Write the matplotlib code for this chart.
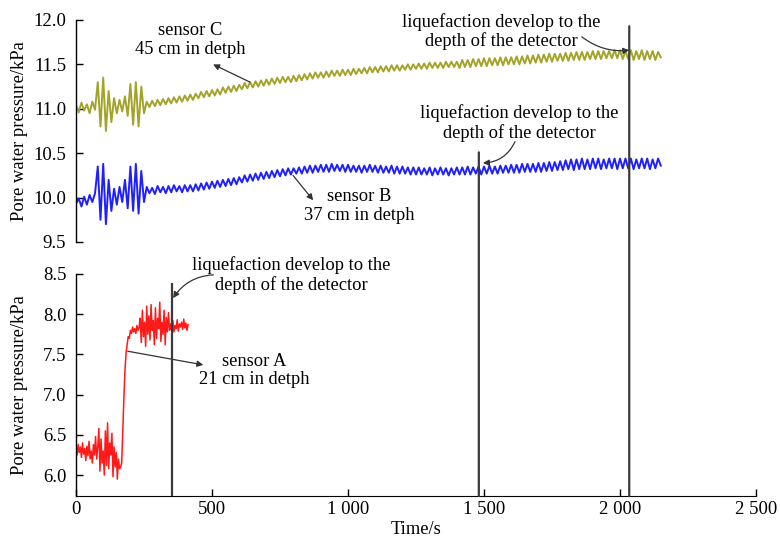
import numpy as np
import matplotlib
matplotlib.use("Agg")
import matplotlib.pyplot as plt
from matplotlib.patches import ConnectionPatch

plt.rcParams['font.family'] = ['Liberation Serif', 'DejaVu Serif']

# ---------------- data ----------------
t_step_bc = 10      # s, sampling step for sensors B and C
t_step_a = 4        # s, sampling step for sensor A

sensor_c = [
    11.04, 10.96, 11.07, 10.98, 11.05, 10.95, 11.08, 10.99,
    11.30, 10.80, 11.35, 10.75, 11.20, 10.85,
    11.12, 10.95, 11.10, 10.97, 11.14, 10.92,
    11.28, 10.82, 11.30, 10.80, 11.25, 10.95,
    11.08, 11.02, 11.09, 11.03, 11.10, 11.04, 11.11, 11.05, 11.12, 11.06, 11.13, 11.07, 11.14, 11.08, 11.15,
    11.09, 11.16, 11.10, 11.17, 11.12, 11.19, 11.13, 11.20, 11.14, 11.21, 11.15, 11.22, 11.16, 11.24, 11.18, 11.25, 11.19, 11.26, 11.20, 11.27,
    11.22, 11.29, 11.23, 11.30, 11.24, 11.31, 11.25, 11.32, 11.26, 11.33, 11.27, 11.34, 11.28, 11.35, 11.29, 11.36, 11.30, 11.36, 11.30, 11.37,
    11.31, 11.38, 11.32, 11.39, 11.33, 11.40, 11.34, 11.41, 11.35, 11.41, 11.35, 11.42, 11.36, 11.43, 11.37, 11.43, 11.37, 11.44, 11.38, 11.44,
    11.38, 11.45, 11.39, 11.45, 11.40, 11.46, 11.40, 11.47, 11.41, 11.47, 11.41, 11.48, 11.42, 11.48, 11.42, 11.49, 11.43, 11.49, 11.43, 11.49,
    11.44, 11.50, 11.44, 11.50, 11.45, 11.51, 11.45, 11.51, 11.45, 11.52, 11.46, 11.52, 11.46, 11.52, 11.46, 11.53, 11.47, 11.53, 11.47, 11.53,
    11.46, 11.55, 11.47, 11.55, 11.47, 11.56, 11.48, 11.56, 11.48, 11.57, 11.48, 11.57, 11.49, 11.57, 11.49, 11.58, 11.49, 11.58, 11.50, 11.58,
    11.50, 11.59, 11.50, 11.59, 11.51, 11.60, 11.51, 11.60, 11.52, 11.61, 11.52, 11.61, 11.53, 11.62, 11.53, 11.62, 11.54, 11.62, 11.54, 11.63,
    11.54, 11.63, 11.55, 11.64, 11.55, 11.64, 11.55, 11.64, 11.56, 11.65, 11.56, 11.65, 11.56, 11.65, 11.57, 11.65, 11.57, 11.66, 11.57, 11.66,
    11.56, 11.65, 11.56, 11.66, 11.55, 11.65, 11.56, 11.66, 11.55, 11.65, 11.56, 11.65, 11.55, 11.64, 11.58,
]

sensor_b = [
    9.93, 9.99, 9.90, 10.01, 9.92, 10.03, 9.95, 10.05,
    10.35, 9.75, 10.38, 9.70, 10.20, 9.85,
    10.10, 9.92, 10.12, 9.95, 10.20, 9.88,
    10.35, 9.85, 10.38, 9.82, 10.30, 9.95,
    10.12, 10.05, 10.11, 10.04, 10.13, 10.06, 10.12, 10.05, 10.13, 10.06, 10.14, 10.07, 10.13, 10.06, 10.14,
    10.07, 10.14, 10.07, 10.15, 10.08, 10.16, 10.09, 10.17, 10.10, 10.18, 10.11, 10.19, 10.12, 10.20, 10.13, 10.21, 10.14, 10.22, 10.15, 10.23,
    10.17, 10.25, 10.18, 10.26, 10.19, 10.27, 10.20, 10.28, 10.21, 10.29, 10.22, 10.30, 10.23, 10.31, 10.24, 10.32, 10.25, 10.33, 10.26, 10.33,
    10.27, 10.34, 10.27, 10.35, 10.28, 10.36, 10.28, 10.36, 10.29, 10.37, 10.29, 10.37, 10.29, 10.38, 10.30, 10.37, 10.30, 10.37, 10.29, 10.37,
    10.29, 10.36, 10.29, 10.36, 10.28, 10.36, 10.29, 10.37, 10.29, 10.36, 10.28, 10.36, 10.28, 10.35, 10.28, 10.36, 10.27, 10.35, 10.27, 10.35,
    10.27, 10.34, 10.26, 10.34, 10.26, 10.34, 10.26, 10.33, 10.26, 10.34, 10.25, 10.33, 10.26, 10.34, 10.26, 10.33, 10.25, 10.33, 10.26, 10.34,
    10.26, 10.34, 10.26, 10.35, 10.26, 10.34, 10.27, 10.35, 10.26, 10.35, 10.27, 10.36, 10.27, 10.35, 10.27, 10.36, 10.28, 10.36, 10.28, 10.37,
    10.28, 10.37, 10.28, 10.38, 10.29, 10.38, 10.29, 10.38, 10.29, 10.39, 10.29, 10.39, 10.30, 10.40, 10.30, 10.40, 10.31, 10.41, 10.31, 10.42,
    10.32, 10.43, 10.31, 10.43, 10.32, 10.44, 10.32, 10.43, 10.32, 10.44, 10.33, 10.44, 10.32, 10.43, 10.33, 10.44, 10.33, 10.44, 10.32, 10.44,
    10.33, 10.44, 10.33, 10.44, 10.32, 10.43, 10.33, 10.44, 10.33, 10.44, 10.32, 10.43, 10.33, 10.44, 10.36,
]

sensor_a = [
    6.32, 6.25, 6.38, 6.28, 6.35, 6.22, 6.40, 6.26, 6.33, 6.18, 6.36, 6.24, 6.42, 6.20, 6.30, 6.15, 6.38, 6.25, 6.48, 6.20, 6.35,
    6.58, 6.05, 6.45, 6.15, 6.30, 6.00, 6.55, 6.12, 6.65, 6.08, 6.40, 6.25, 6.52, 5.98, 6.35, 6.10, 6.28, 5.95, 6.20, 6.08,
    6.10, 6.15, 6.55, 6.95, 7.30, 7.52, 7.62, 7.72, 7.70, 7.80,
    7.76, 7.84, 7.78, 7.82, 7.76, 7.86, 7.80, 7.84,
    7.95, 7.65, 8.05, 7.72, 7.90, 7.60, 8.10, 7.75, 7.98, 7.68, 8.12, 7.80, 7.92, 7.62, 8.08, 7.70, 7.95, 7.82, 8.15, 7.66,
    7.90, 7.75, 8.05, 7.62, 7.96, 7.78, 8.02, 7.80,
    7.88, 7.80, 7.92, 7.78, 7.86, 7.82, 7.93, 7.79, 7.88, 7.84, 7.90, 7.81, 7.94, 7.83, 7.89, 7.80, 7.87,
]

t_bc = np.arange(len(sensor_c)) * t_step_bc
t_a = np.arange(len(sensor_a)) * t_step_a

# liquefaction event times (s) and top of marker lines (kPa)
event_a, event_a_top = 352, 8.39
event_b, event_b_top = 1481, 10.51
event_c, event_c_top = 2034, 11.93

xticks = [0, 500, 1000, 1500, 2000, 2500]
xticklabels = ['0', '500', '1 000', '1 500', '2 000', '2 500']
yticks_top = [9.5, 10.0, 10.5, 11.0, 11.5, 12.0]
yticks_bot = [6.0, 6.5, 7.0, 7.5, 8.0, 8.5]

# ---------------- figure ----------------
fig = plt.figure(figsize=(7.8, 5.45), dpi=100)
left, right = 76 / 780, 756 / 780
ax1 = fig.add_axes([left, 1 - 242 / 545, right - left, (242 - 20) / 545])
ax2 = fig.add_axes([left, 1 - 496 / 545, right - left, (496 - 274) / 545])

fs_tick = 13.5
fs_txt = 13.3
fs_lab = 13.4
col_c = '#a3a32a'
col_b = '#1f1fff'
col_a = '#ff1a1a'
col_v = '#3a3a3a'

ax1.plot(t_bc, sensor_c, color=col_c, lw=1.4)
ax1.plot(t_bc, sensor_b, color=col_b, lw=1.4)
ax2.plot(t_a, sensor_a, color=col_a, lw=1.1)

for ax in (ax1, ax2):
    ax.set_xlim(0, 2500)
    ax.spines['top'].set_visible(False)
    ax.spines['right'].set_visible(False)
    ax.patch.set_alpha(0)
    ax.tick_params(direction='in', length=5, width=1, labelsize=fs_tick)
    ax.tick_params(axis='y', pad=7)
    ax.spines['left'].set_linewidth(1.0)

ax1.set_ylim(9.5, 12.0)
ax1.set_yticks(yticks_top)
ax1.set_yticklabels([f'{v:.1f}' for v in yticks_top])
ax1.spines['bottom'].set_visible(False)
ax1.set_xticks([])

ax2.set_ylim(5.74, 8.5)
ax2.set_yticks(yticks_bot)
ax2.set_yticklabels([f'{v:.1f}' for v in yticks_bot])
ax2.set_xticks(xticks)
ax2.set_xticklabels(xticklabels)
ax2.spines['left'].set_bounds(5.74, 8.5)

ax1.set_ylabel('Pore water pressure/kPa', fontsize=fs_lab)
ax2.set_ylabel('Pore water pressure/kPa', fontsize=fs_lab)
ax2.set_xlabel('Time/s', fontsize=fs_txt, labelpad=2)
ax1.yaxis.set_label_coords(-0.071, 0.50)
ax2.yaxis.set_label_coords(-0.071, 0.50)

# vertical event lines
ax2.vlines(event_a, 5.74, event_a_top, color=col_v, lw=1.6, zorder=5)
for ev, top in ((event_b, event_b_top), (event_c, event_c_top)):
    cp = ConnectionPatch(xyA=(ev, 5.74), coordsA=ax2.transData,
                         xyB=(ev, top), coordsB=ax1.transData,
                         color=col_v, lw=1.6, zorder=5)
    fig.add_artist(cp)

liq = 'liquefaction develop to the\ndepth of the detector'
arrow_straight = dict(arrowstyle='-|>', color='#333333', lw=0.9, mutation_scale=9,
                      shrinkA=0, shrinkB=0)

# sensor C
ax1.text(420, 11.77, 'sensor C\n45 cm in detph', ha='center', va='center',
         fontsize=fs_txt, linespacing=1.15)
ax1.annotate('', xy=(504, 11.50), xytext=(640, 11.30), arrowprops=arrow_straight)

# sensor B
ax1.text(1040, 9.91, 'sensor B\n37 cm in detph', ha='center', va='center',
         fontsize=fs_txt, linespacing=1.15)
ax1.annotate('', xy=(872, 9.97), xytext=(798, 10.25), arrowprops=arrow_straight)

# liquefaction C
ax1.text(1563, 11.87, liq, ha='center', va='center', fontsize=fs_txt, linespacing=1.15,
         clip_on=False)
ax1.annotate('', xy=(event_c, 11.66), xytext=(1860, 11.81),
             arrowprops=dict(arrowstyle='-|>', color='#333333', lw=0.9, mutation_scale=9,
                             shrinkA=0, shrinkB=0, connectionstyle='arc3,rad=0.2'))

# liquefaction B
ax1.text(1629, 10.835, liq, ha='center', va='center', fontsize=fs_txt, linespacing=1.15)
ax1.annotate('', xy=(event_b + 15, 10.39), xytext=(1614, 10.63),
             arrowprops=dict(arrowstyle='-|>', color='#333333', lw=0.9, mutation_scale=9,
                             shrinkA=0, shrinkB=0, connectionstyle='arc3,rad=-0.3'))

# liquefaction A
ax2.text(790, 8.49, liq, ha='center', va='center', fontsize=fs_txt, linespacing=1.15,
         clip_on=False)
ax2.annotate('', xy=(event_a + 5, 8.20), xytext=(505, 8.49),
             arrowprops=dict(arrowstyle='-|>', color='#333333', lw=0.9, mutation_scale=9,
                             shrinkA=0, shrinkB=0, connectionstyle='arc3,rad=0.25'))

# sensor A
ax2.text(654, 7.30, 'sensor A\n21 cm in detph', ha='center', va='center',
         fontsize=fs_txt, linespacing=1.15)
ax2.annotate('', xy=(468, 7.37), xytext=(190, 7.54), arrowprops=arrow_straight)

fig.savefig('out.png', dpi=100)
